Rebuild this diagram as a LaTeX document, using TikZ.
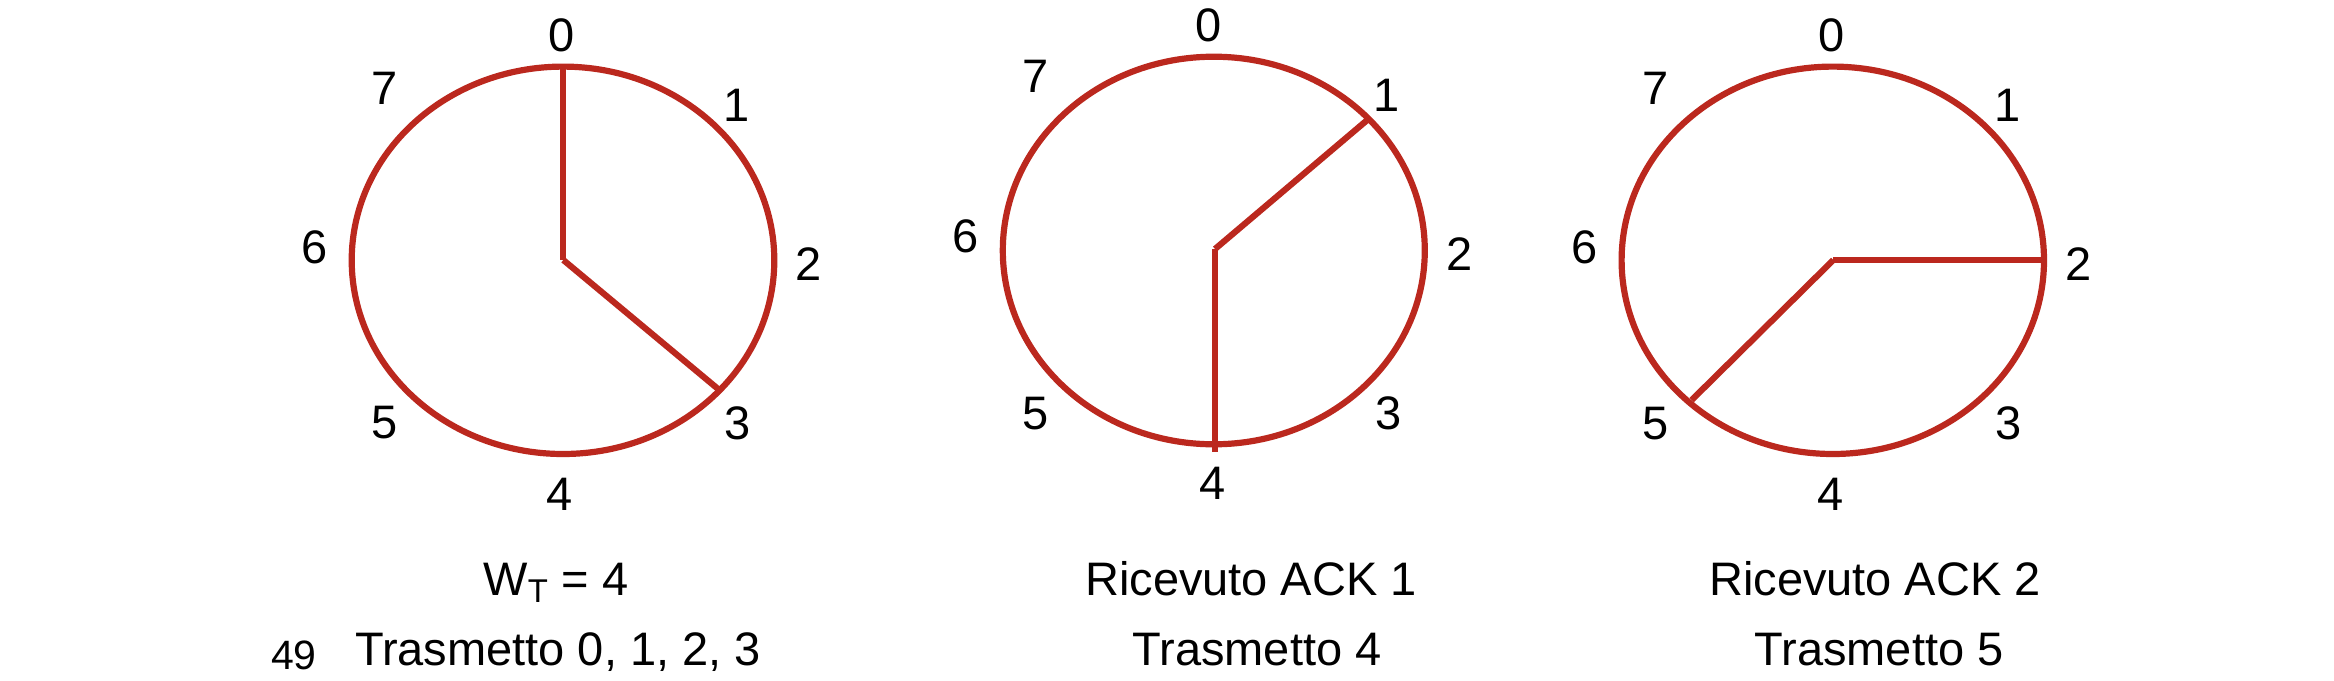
\documentclass[tikz,border=0pt]{standalone}
\usepackage{fontspec}
\setmainfont{Liberation Sans}
\definecolor{clockred}{RGB}{187,40,30}
\tikzset{
  x=0.5pt, y=-0.5pt,
  rim/.style={draw=clockred, line width=3.1pt},
  hand/.style={draw=clockred, line width=3.1pt, line cap=butt},
  num/.style={inner sep=0pt, anchor=center, font=\fontsize{23.5}{28}\selectfont},
  caption/.style={inner sep=0pt, anchor=base, font=\fontsize{23.5}{28}\selectfont},
  pagenum/.style={inner sep=0pt, anchor=base, font=\fontsize{20.5}{24}\selectfont}
}
\begin{document}
\begin{tikzpicture}
\useasboundingbox (0,0) rectangle (2334,680);
% ---------- panel 1 ----------
\coordinate (c1) at (563,260.3);
\coordinate (p1a) at (563.3,66.7);
\coordinate (p1b) at (719.3,390);
\coordinate (h1) at (563.3,260);
\draw[rim] (c1) ellipse [x radius=211.3, y radius=193.7];
\draw[hand] (h1) -- (p1a);
\draw[hand] (h1) -- (p1b);
\node[num] (a0) at (562,35) {0};
\node[num] (a1) at (737,105) {1};
\node[num] (a2) at (809,264) {2};
\node[num] (a3) at (738,423) {3};
\node[num] (a4) at (560,494) {4};
\node[num] (a5) at (385,423) {5};
\node[num] (a6) at (315,247.5) {6};
\node[num] (a7) at (385,88) {7};
\node[caption] (t1a) at (556,595) {W\textsubscript{T} = 4};
\node[caption] (t1b) at (558,665) {Trasmetto 0, 1, 2, 3};
\node[pagenum] (pg) at (294,669) {49};
% ---------- panel 2 ----------
\coordinate (c2) at (1213.8,250.5);
\coordinate (h2) at (1215,249);
\coordinate (p2a) at (1369.3,118.3);
\coordinate (p2b) at (1215,451.7);
\draw[rim] (c2) ellipse [x radius=211, y radius=193.8];
\draw[hand] (h2) -- (p2a);
\draw[hand] (h2) -- (p2b);
\node[num] (b0) at (1208.3,25) {0};
\node[num] (b1) at (1386.7,95) {1};
\node[num] (b2) at (1460,254) {2};
\node[num] (b3) at (1389,413.3) {3};
\node[num] (b4) at (1212.3,483.3) {4};
\node[num] (b5) at (1035.7,413.3) {5};
\node[num] (b6) at (965.8,236) {6};
\node[num] (b7) at (1035.7,76.7) {7};
\node[caption] (t2a) at (1251,595) {Ricevuto ACK 1};
\node[caption] (t2b) at (1257,665) {Trasmetto 4};
% ---------- panel 3 ----------
\coordinate (c3) at (1832.8,260.3);
\coordinate (h3) at (1833.3,260);
\coordinate (p3a) at (2044,260);
\coordinate (p3b) at (1691.7,400);
\draw[rim] (c3) ellipse [x radius=211.2, y radius=193.7];
\draw[hand] (h3) -- (p3a);
\draw[hand] (h3) -- (p3b);
\node[num] (d0) at (1831.7,35) {0};
\node[num] (d1) at (2007.7,105) {1};
\node[num] (d2) at (2079,264) {2};
\node[num] (d3) at (2009,423.3) {3};
\node[num] (d4) at (1831,494) {4};
\node[num] (d5) at (1656,423.3) {5};
\node[num] (d6) at (1585,247.5) {6};
\node[num] (d7) at (1656,88.3) {7};
\node[caption] (t3a) at (1875,595) {Ricevuto ACK 2};
\node[caption] (t3b) at (1879,665) {Trasmetto 5};
\end{tikzpicture}
\end{document}
